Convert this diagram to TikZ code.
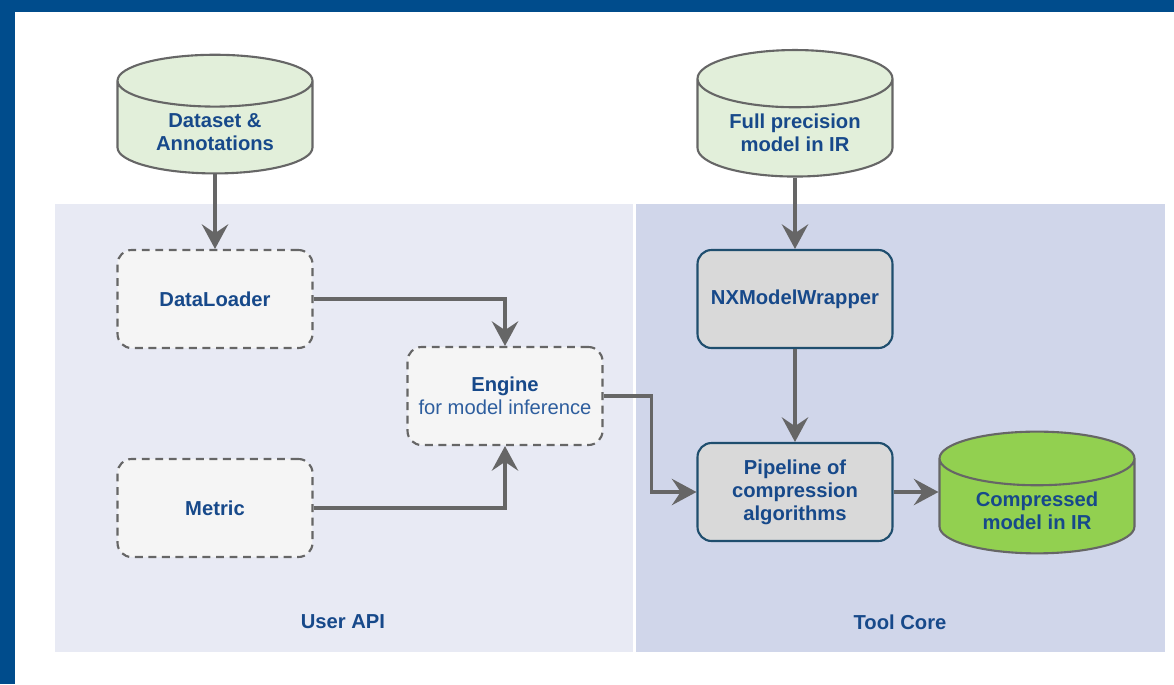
\documentclass[tikz,border=0pt]{standalone}
\usepackage{fontspec}
\setmainfont{Liberation Sans}
\usetikzlibrary{shapes.geometric,arrows.meta}

\definecolor{bandblue}{HTML}{004C8C}
\definecolor{apibg}{HTML}{E8EAF4}
\definecolor{corebg}{HTML}{D0D6EA}
\definecolor{dbfill}{HTML}{E2EFDA}
\definecolor{dbgreen}{HTML}{92D050}
\definecolor{edgegray}{HTML}{666666}
\definecolor{boxgray}{HTML}{D9D9D9}
\definecolor{boxedge}{HTML}{1F4E6E}
\definecolor{txtblue}{HTML}{17498A}
\definecolor{subblue}{HTML}{2E5E9E}

\tikzset{
  lbl/.style={font=\fontsize{11.5}{13}\selectfont\bfseries, text=txtblue, align=center},
  dbcyl/.style={cylinder, shape border rotate=90, aspect=0.4, draw=edgegray,
                line width=1.2pt, minimum width=3.9cm, minimum height=2.1cm,
                fill=dbfill, lbl},
  apibox/.style={rectangle, rounded corners=0.28cm, draw=edgegray, line width=1.2pt,
                 dash pattern=on 4.5pt off 3.2pt, fill=black!4,
                 minimum width=3.9cm, minimum height=1.96cm, lbl},
  corebox/.style={rectangle, rounded corners=0.28cm, draw=boxedge, line width=1.2pt,
                  fill=boxgray, minimum width=3.9cm, minimum height=1.96cm, lbl},
  flow/.style={draw=edgegray, line width=1.8pt,
               -{Stealth[length=14pt, width=15pt, inset=5pt]}}
}

\begin{document}
\begin{tikzpicture}[x=0.02cm, y=-0.02cm]
    % Frame

    \useasboundingbox (0,0) rectangle (1174,684);
    \fill[white] (0,0) rectangle (1174,684);
    \fill[bandblue] (0,0) rectangle (1174,12);
    \fill[bandblue] (0,0) rectangle (15,684);

    % Panels

    \fill[apibg] (55,204) rectangle (633,652);
    \fill[corebg] (636,204) rectangle (1165,652);
    \node (userapi) [lbl] at (343,622) {User API};
    \node (toolcore) [lbl] at (900,622) {Tool Core};

    % User API

    \node (dataset) [dbcyl] at (215,132) {Dataset \&\\Annotations};
    \node (dataloader) [apibox] at (215,299) {DataLoader};
    \node (metric) [apibox] at (215,508) {Metric};
    \node (engine) [apibox] at (505,396)
          {Engine\\{\mdseries\color{subblue}for model inference}};
    \draw[flow] (dataset) -- (dataloader);
    \draw[flow] (dataloader.east) -| (engine.north);
    \draw[flow] (metric.east) -| (engine.south);

    % Tool Core

    \node (fullmodel) [dbcyl] at (795,133) {Full precision\\model in IR};
    \node (wrapper) [corebox] at (795,299) {NXModelWrapper};
    \node (pipeline) [corebox] at (795,492)
          {Pipeline of\\compression\\algorithms};
    \node (compressed) [dbcyl, fill=dbgreen] at (1037,511)
          {Compressed\\model in IR};
    \draw[flow] (fullmodel) -- (wrapper);
    \draw[flow] (wrapper) -- (pipeline);
    \draw[flow] (engine.east) -- ++(48,0) |- (pipeline.west);
    \draw[flow] (pipeline.east) -- (pipeline.east -| compressed.west);
\end{tikzpicture}
\end{document}
